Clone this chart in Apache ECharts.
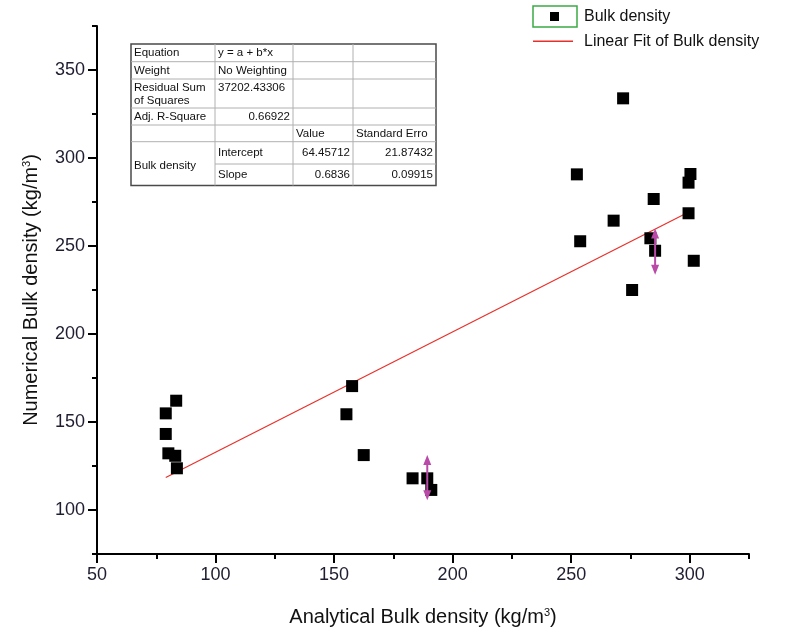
<!DOCTYPE html>
<html>
<head>
<meta charset="utf-8">
<script src="https://cdn.jsdelivr.net/npm/echarts@6/dist/echarts.min.js"></script>
<style>
  html, body { margin: 0; padding: 0; background: #fff; }
  #main { width: 798px; height: 637px; }
</style>
</head>
<body>
<div id="main"></div>
<script>
// measured points (Analytical vs Numerical bulk density)
var analytical = [83.4, 79.0, 79.0, 80.1, 83.0, 83.7,
                  157.6, 155.2, 162.5, 183.1, 189.3, 191.0,
                  271.9, 252.4, 300.3, 299.5, 284.8, 299.5, 267.9, 253.8, 283.4, 285.4, 301.7, 275.7];
var numerical  = [162.1, 154.9, 143.2, 132.2, 130.8, 123.7,
                  170.4, 154.4, 131.2, 118.0, 118.0, 111.4,
                  333.9, 290.7, 290.9, 286.0, 276.7, 268.6, 264.4, 252.7, 254.4, 247.3, 241.6, 225.0];

// error bars (x, y centre, half length)
var errX = [189.3, 285.4];
var errY = [118.4, 246.8];
var errD = [12.8, 13.2];

// linear fit from the table
var fitIntercept = 64.45712;
var fitSlope = 0.6836;

// ticks
var xMajor = [50, 100, 150, 200, 250, 300];
var yMajor = [100, 150, 200, 250, 300, 350];

// fit table text
var tableRows = [
  ['Equation', 'y = a + b*x', '', ''],
  ['Weight', 'No Weighting', '', ''],
  ['Residual Sum\nof Squares', '37202.43306', '', ''],
  ['Adj. R-Square', '0.66922', '', ''],
  ['', '', 'Value', 'Standard Erro'],
  ['Bulk density', 'Intercept', '64.45712', '21.87432'],
  ['', 'Slope', '0.6836', '0.09915']
];

var FONT = '"Liberation Sans", Arial, sans-serif';

var points = [];
for (var i = 0; i < analytical.length; i++) {
  points.push([analytical[i], numerical[i]]);
}
var errData = [];
for (var i = 0; i < errX.length; i++) {
  errData.push([errX[i], errY[i], errD[i]]);
}
var xLo = Math.min.apply(null, analytical);
var xHi = Math.max.apply(null, analytical);
var fitLine = [[xLo, fitIntercept + fitSlope * xLo], [xHi, fitIntercept + fitSlope * xHi]];

// table graphic
function buildTable() {
  var colX = [131, 215, 293, 353, 436];
  var rowY = [44, 61.7, 79, 108, 125, 141.7, 164, 185.5];
  var g = [];
  var lineStyle = { stroke: '#b0b0b0', lineWidth: 1 };
  g.push({ type: 'rect', shape: { x: colX[0], y: rowY[0], width: colX[4] - colX[0], height: rowY[7] - rowY[0] },
           style: { fill: '#fff', stroke: '#4a4a4a', lineWidth: 1.5 }, z: 10 });
  for (var r = 1; r <= 5; r++) {
    g.push({ type: 'line', shape: { x1: colX[0], y1: rowY[r], x2: colX[4], y2: rowY[r] }, style: lineStyle, z: 11 });
  }
  g.push({ type: 'line', shape: { x1: colX[1], y1: rowY[6], x2: colX[4], y2: rowY[6] }, style: lineStyle, z: 11 });
  for (var c = 1; c <= 3; c++) {
    g.push({ type: 'line', shape: { x1: colX[c], y1: rowY[0], x2: colX[c], y2: rowY[7] }, style: lineStyle, z: 11 });
  }
  var rightAlign = { '3,1': 1, '5,2': 1, '5,3': 1, '6,2': 1, '6,3': 1 };
  for (var r = 0; r < tableRows.length; r++) {
    for (var c = 0; c < 4; c++) {
      var t = tableRows[r][c];
      if (!t) continue;
      var right = rightAlign[r + ',' + c];
      var y = (rowY[r] + rowY[r + 1]) / 2;
      var va = 'middle';
      if (r === 2) { y = rowY[r] + 2; va = 'top'; }
      if (r === 5 && c === 0) { y = (rowY[5] + rowY[7]) / 2 + 2; }
      g.push({
        type: 'text', z: 12,
        x: right ? colX[c + 1] - 3 : colX[c] + 3, y: y,
        style: { text: t, fill: '#111', font: '11.5px ' + FONT, textAlign: right ? 'right' : 'left',
                 textVerticalAlign: va, lineHeight: 13 }
      });
    }
  }
  return g;
}

function buildLegend() {
  return [
    { type: 'rect', shape: { x: 533, y: 6, width: 44, height: 21 }, style: { fill: '#fff', stroke: '#3aaa45', lineWidth: 1.5 } },
    { type: 'rect', shape: { x: 550, y: 12, width: 9, height: 9 }, style: { fill: '#000' } },
    { type: 'text', x: 584, y: 16.5, style: { text: 'Bulk density', fill: '#111', font: '16px ' + FONT, textVerticalAlign: 'middle' } },
    { type: 'rect', shape: { x: 533, y: 40.5, width: 40, height: 1.4 }, style: { fill: '#e8302a' } },
    { type: 'text', x: 584, y: 41.5, style: { text: 'Linear Fit of Bulk density', fill: '#111', font: '16px ' + FONT, textVerticalAlign: 'middle' } }
  ];
}

var myChart = echarts.init(document.getElementById('main'));

var nameStyle = {
  fontFamily: FONT, fontSize: 20, color: '#111',
  rich: {
    a: { fontFamily: FONT, fontSize: 20, color: '#111' },
    s: { fontFamily: FONT, fontSize: 11, color: '#111', verticalAlign: 'top' }
  }
};

var option = {
  animation: false,
  backgroundColor: '#fff',
  grid: { left: 97, right: 49, top: 26, bottom: 83 },
  xAxis: [{
    type: 'value', min: 50, max: 325, interval: 25,
    name: '{a|Analytical Bulk density (kg/m}{s|3}{a|)}',
    nameLocation: 'middle', nameGap: 53, nameTextStyle: nameStyle,
    axisLine: { show: true, onZero: false, lineStyle: { color: '#000', width: 2 } },
    axisTick: { show: true, length: 5, lineStyle: { color: '#000', width: 2 } },
    axisLabel: {
      margin: 12, fontFamily: FONT, fontSize: 18, color: '#1e1e30',
      formatter: function (v) { return xMajor.indexOf(v) >= 0 ? String(v) : ''; }
    },
    splitLine: { show: false }
  }, {
    type: 'value', min: 50, max: 325, position: 'bottom', gridIndex: 0,
    axisLine: { show: false },
    axisTick: { show: true, length: 9, customValues: xMajor, lineStyle: { color: '#000', width: 2 } },
    axisLabel: { show: false },
    splitLine: { show: false }
  }],
  yAxis: [{
    type: 'value', min: 75, max: 375, interval: 25,
    name: '{a|Numerical Bulk density (kg/m}{s|3}{a|)}',
    nameLocation: 'middle', nameGap: 56, nameRotate: 90, nameTextStyle: nameStyle,
    axisLine: { show: true, onZero: false, lineStyle: { color: '#000', width: 2 } },
    axisTick: { show: true, length: 5, lineStyle: { color: '#000', width: 2 } },
    axisLabel: {
      margin: 12, fontFamily: FONT, fontSize: 18, color: '#1e1e30',
      formatter: function (v) { return yMajor.indexOf(v) >= 0 ? String(v) : ''; }
    },
    splitLine: { show: false }
  }, {
    type: 'value', min: 75, max: 375, position: 'left', gridIndex: 0,
    axisLine: { show: false },
    axisTick: { show: true, length: 9, customValues: yMajor, lineStyle: { color: '#000', width: 2 } },
    axisLabel: { show: false },
    splitLine: { show: false }
  }],
  series: [{
    name: 'Linear Fit of Bulk density',
    type: 'line',
    data: fitLine,
    symbol: 'none',
    lineStyle: { color: '#e8302a', width: 1.2 },
    z: 2
  }, {
    name: 'Bulk density',
    type: 'scatter',
    data: points,
    symbol: 'rect',
    symbolSize: 12,
    itemStyle: { color: '#000', opacity: 1 },
    z: 3
  }, {
    type: 'custom',
    data: errData,
    z: 4,
    renderItem: function (params, api) {
      var x = api.value(0), y = api.value(1), d = api.value(2);
      var top = api.coord([x, y + d]);
      var bot = api.coord([x, y - d]);
      var col = '#b94aa8';
      return {
        type: 'group',
        children: [
          { type: 'line', shape: { x1: top[0], y1: top[1] + 4, x2: bot[0], y2: bot[1] - 4 }, style: { stroke: col, lineWidth: 2 } },
          { type: 'polygon', shape: { points: [[top[0], top[1]], [top[0] - 4, top[1] + 10], [top[0] + 4, top[1] + 10]] }, style: { fill: col } },
          { type: 'polygon', shape: { points: [[bot[0], bot[1]], [bot[0] - 4, bot[1] - 10], [bot[0] + 4, bot[1] - 10]] }, style: { fill: col } }
        ]
      };
    }
  }],
  graphic: buildTable().concat(buildLegend())
};

myChart.setOption(option);
</script>
</body>
</html>
